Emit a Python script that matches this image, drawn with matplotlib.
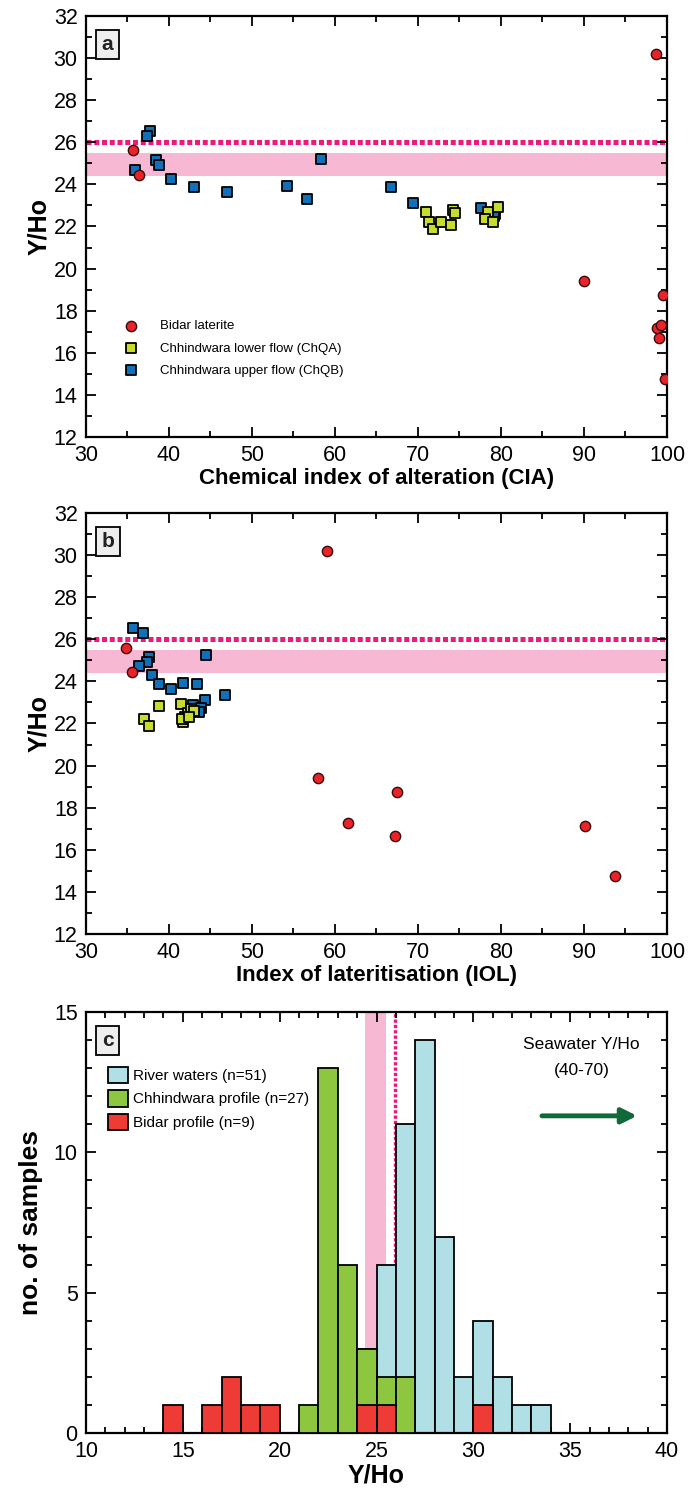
import matplotlib
matplotlib.use("Agg")
import matplotlib.pyplot as plt
from matplotlib.patches import Patch
from matplotlib.ticker import MultipleLocator
import numpy as np

plt.rcParams['font.family'] = ['Liberation Sans', 'DejaVu Sans']

# ---------------- data ----------------
# Panel a: CIA vs Y/Ho
bidar_cia = [35.7, 36.35, 90.0, 98.7, 99.5, 98.8, 99.3, 99.0, 99.7]
bidar_yho = [25.62, 24.45, 19.43, 30.2, 18.75, 17.2, 17.3, 16.7, 14.75]

chqa_cia = [71.0, 71.35, 71.75, 72.77, 73.97, 74.25, 74.4, 78.46, 79.58, 78.06, 78.98]
chqa_yho = [22.67, 22.2, 21.88, 22.23, 22.07, 22.78, 22.65, 22.7, 22.94, 22.34, 22.21]

chqb_cia = [37.75, 37.4, 38.43, 38.76, 35.86, 40.24, 42.97, 46.99, 54.2, 56.6, 58.3,
            66.8, 69.4, 77.6, 79.3, 79.2]
chqb_yho = [26.53, 26.29, 25.17, 24.93, 24.69, 24.26, 23.86, 23.62, 23.94, 23.3, 25.22,
            23.9, 23.13, 22.87, 22.59, 22.5]

# Panel b: IOL vs Y/Ho
bidar_iol = [34.78, 35.5, 58.0, 59.0, 67.5, 61.55, 90.1, 67.2, 93.7]
bidar_yho_b = [25.6, 24.46, 19.43, 30.2, 18.75, 17.29, 17.14, 16.65, 14.75]

chqa_iol = [37.0, 37.6, 38.8, 41.45, 41.74, 41.9, 42.3, 42.7, 41.6, 43.0, 42.4]
chqa_yho_b = [22.2, 21.9, 22.83, 22.95, 22.08, 22.3, 22.5, 22.7, 22.2, 22.6, 22.3]

chqb_iol = [35.7, 36.9, 37.63, 37.31, 36.42, 44.46, 37.99, 38.8, 40.2, 41.72, 43.33,
            46.75, 44.34, 42.93, 43.9, 43.6]
chqb_yho_b = [26.52, 26.29, 25.17, 24.94, 24.73, 25.24, 24.29, 23.89, 23.65, 23.94, 23.89,
              23.35, 23.14, 22.9, 22.75, 22.55]

# Panel c: histograms (bin left edges, width 1)
river_bins = [24, 25, 26, 27, 28, 29, 30, 31, 32, 33]
river_counts = [3, 6, 11, 14, 7, 2, 4, 2, 1, 1]
chh_bins = [21, 22, 23, 24, 25, 26]
chh_counts = [1, 13, 6, 3, 2, 2]
bidar_bins = [14, 16, 17, 18, 19, 24, 25, 30]
bidar_counts = [1, 1, 2, 1, 1, 1, 1, 1]

chondrite_line = 26.0
band_range = (24.4, 25.5)

labels_scatter = ['Bidar laterite', 'Chhindwara lower flow (ChQA)', 'Chhindwara upper flow (ChQB)']
labels_hist = ['River waters (n=51)', 'Chhindwara profile (n=27)', 'Bidar profile (n=9)']

# ---------------- style ----------------
RED = '#E8232A'
YG = '#C8DC2E'
BLUE = '#1270B8'
PINK = '#F6B8D3'
MAG = '#EC1B7B'
H_BLUE = '#B0DFE5'
H_GREEN = '#8DC63F'
H_RED = '#EF3B36'
ARROW_G = '#11693A'

fig = plt.figure(figsize=(6.94, 15.12), dpi=100)
L, W, H = 86 / 694, 581 / 694, 421 / 1512
ax_a = fig.add_axes([L, 1 - 437 / 1512, W, H])
ax_b = fig.add_axes([L, 1 - 934 / 1512, W, H])
ax_c = fig.add_axes([L, 1 - 1433 / 1512, W, H])

TICK_FS = 15.5


def style_axes(ax):
    for s in ax.spines.values():
        s.set_linewidth(1.6)
    ax.tick_params(which='both', direction='in', top=True, right=True,
                   labelsize=TICK_FS, width=1.3)
    ax.tick_params(which='major', length=7)
    ax.tick_params(which='minor', length=4)
    ax.tick_params(axis='x', which='major', pad=6)
    ax.tick_params(axis='y', which='major', pad=6)


def panel_label(ax, s):
    ax.text(0.027, 0.955, s, transform=ax.transAxes, fontsize=15, fontweight='bold',
            ha='left', va='top', color='#222222',
            bbox=dict(boxstyle='square,pad=0.25', facecolor='#EEEEEE', edgecolor='black', linewidth=1.3),
            zorder=10)


def scatter_panel(ax, bx, by, ax_x, ay, bbx, bby, xlabel):
    ax.axhspan(band_range[0], band_range[1], color=PINK, zorder=0, lw=0)
    ax.axhline(chondrite_line, color=MAG, lw=3.6, dashes=(1.0, 0.55), zorder=1)
    ax.scatter(bbx, bby, marker='s', s=48, facecolor=BLUE, edgecolor='black', linewidth=1.3,
               zorder=3, label=labels_scatter[2])
    ax.scatter(ax_x, ay, marker='s', s=48, facecolor=YG, edgecolor='black', linewidth=1.3,
               zorder=3, label=labels_scatter[1])
    ax.scatter(bx, by, marker='o', s=55, facecolor=RED, edgecolor='#3a0a0a', linewidth=1.0,
               zorder=4, label=labels_scatter[0])
    ax.set_xlim(30, 100)
    ax.set_ylim(12, 32)
    ax.xaxis.set_major_locator(MultipleLocator(10))
    ax.xaxis.set_minor_locator(MultipleLocator(5))
    ax.yaxis.set_major_locator(MultipleLocator(2))
    ax.yaxis.set_minor_locator(MultipleLocator(1))
    style_axes(ax)
    ax.set_ylabel('Y/Ho', fontsize=18, fontweight='bold', labelpad=2)
    ax.set_xlabel(xlabel, fontsize=16, fontweight='bold', labelpad=1)


scatter_panel(ax_a, bidar_cia, bidar_yho, chqa_cia, chqa_yho, chqb_cia, chqb_yho,
              'Chemical index of alteration (CIA)')
scatter_panel(ax_b, bidar_iol, bidar_yho_b, chqa_iol, chqa_yho_b, chqb_iol, chqb_yho_b,
              'Index of lateritisation (IOL)')
panel_label(ax_a, 'a')
panel_label(ax_b, 'b')

h, l = ax_a.get_legend_handles_labels()
order = [2, 1, 0]
ax_a.legend([h[i] for i in order], [l[i] for i in order], loc='upper left',
            bbox_to_anchor=(0.045, 0.29), frameon=False, fontsize=9.5,
            labelspacing=0.75, handletextpad=1.2, borderaxespad=0, scatterpoints=1)

# ---------------- panel c ----------------
ax = ax_c
ax.axvspan(band_range[0], band_range[1], color=PINK, zorder=0, lw=0)
ax.axvline(chondrite_line - 0.05, color=MAG, lw=2.4, dashes=(1.0, 0.6), zorder=1)
ax.bar(river_bins, river_counts, width=1, align='edge', color=H_BLUE, edgecolor='black',
       linewidth=1.3, zorder=2)
ax.bar(chh_bins, chh_counts, width=1, align='edge', color=H_GREEN, edgecolor='black',
       linewidth=1.3, zorder=3)
ax.bar(bidar_bins, bidar_counts, width=1, align='edge', color=H_RED, edgecolor='black',
       linewidth=1.3, zorder=4)
ax.set_xlim(10, 40)
ax.set_ylim(0, 15)
ax.xaxis.set_major_locator(MultipleLocator(5))
ax.xaxis.set_minor_locator(MultipleLocator(1))
ax.yaxis.set_major_locator(MultipleLocator(5))
ax.yaxis.set_minor_locator(MultipleLocator(1))
style_axes(ax)
ax.set_xlabel('Y/Ho', fontsize=18, fontweight='bold', labelpad=1)
ax.set_ylabel('no. of samples', fontsize=19, fontweight='bold', labelpad=8)
panel_label(ax, 'c')

handles = [Patch(facecolor=H_BLUE, edgecolor='black', linewidth=1.3),
           Patch(facecolor=H_GREEN, edgecolor='black', linewidth=1.3),
           Patch(facecolor=H_RED, edgecolor='black', linewidth=1.3)]
ax.legend(handles, labels_hist, loc='upper left', bbox_to_anchor=(0.028, 0.885), frameon=False,
          fontsize=11, handlelength=1.3, handleheight=1.3, handletextpad=0.3,
          labelspacing=0.45, borderaxespad=0)

ax.text(35.6, 13.85, 'Seawater Y/Ho', ha='center', va='center', fontsize=12.5)
ax.text(35.6, 12.9, '(40-70)', ha='center', va='center', fontsize=12.5)
ax.annotate('', xy=(38.6, 11.3), xytext=(33.4, 11.3),
            arrowprops=dict(arrowstyle='-|>,head_length=0.9,head_width=0.45',
                            color=ARROW_G, lw=3.5))

fig.savefig('out.png', dpi=100)
